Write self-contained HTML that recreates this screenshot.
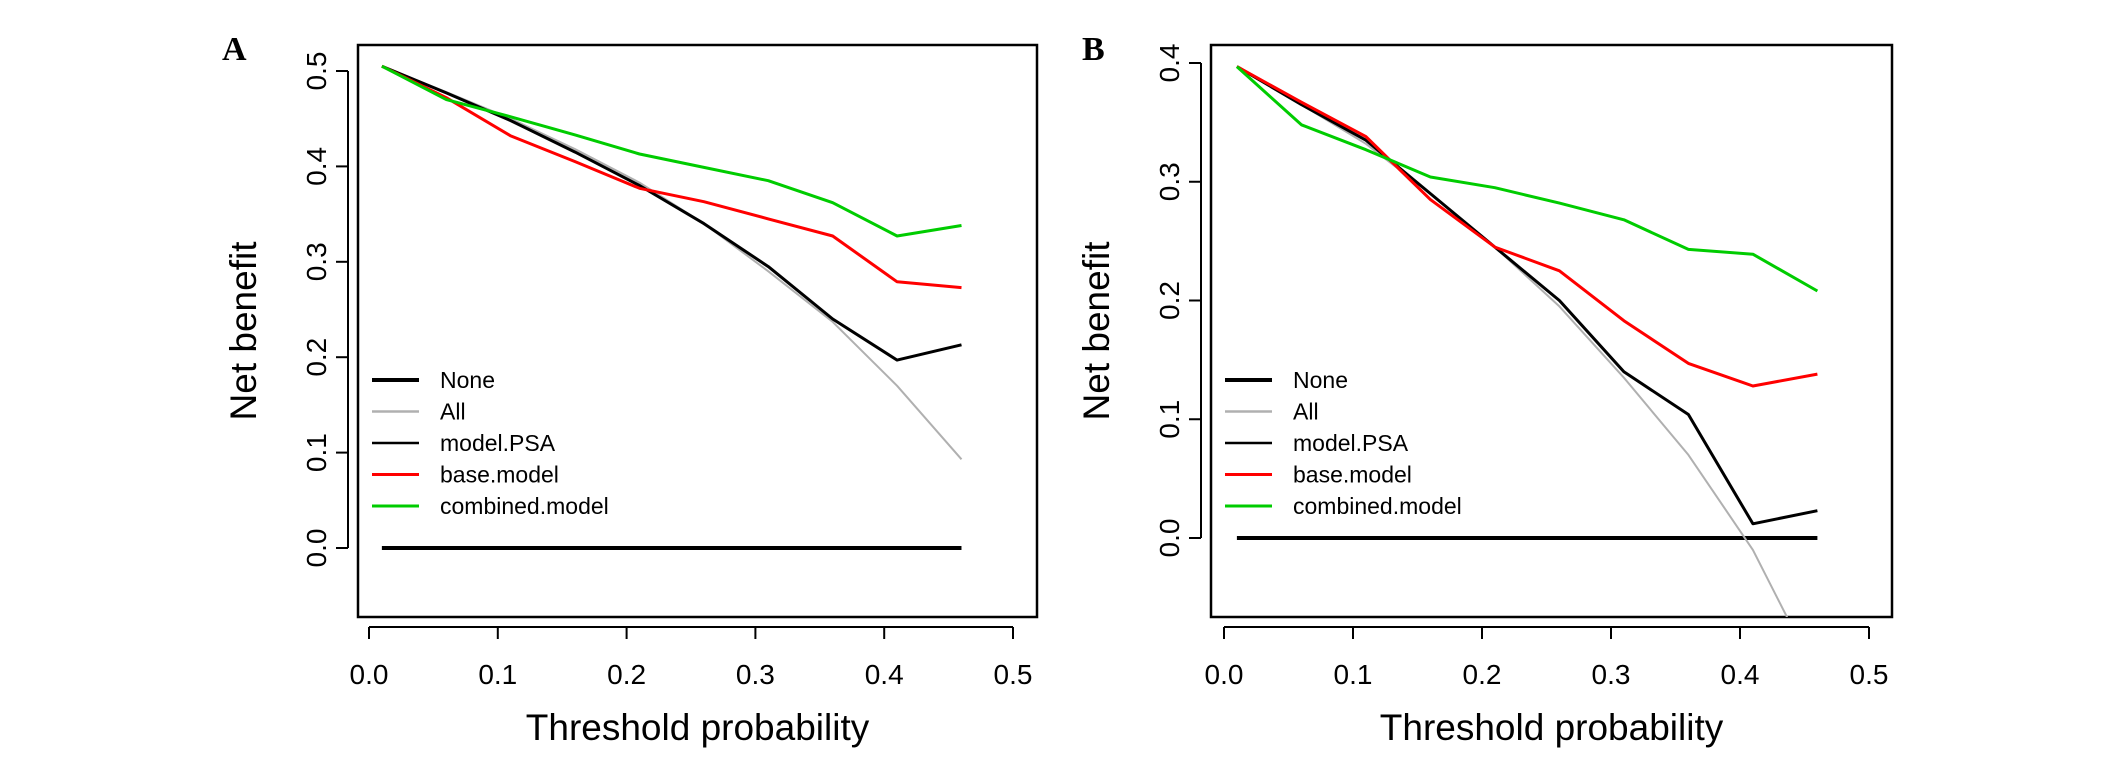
<!DOCTYPE html>
<html><head><meta charset="utf-8"><style>
body{margin:0;background:#fff;}
svg{display:block;font-family:"Liberation Sans",sans-serif;}
</style></head><body>
<svg id="fig" width="2126" height="760" viewBox="0 0 2126 760"></svg>
<script>
const xVals=[0.01,0.06,0.11,0.16,0.21,0.26,0.31,0.36,0.41,0.46];
const xTicks=[0.0,0.1,0.2,0.3,0.4,0.5];
const xTickLabels=["0.0","0.1","0.2","0.3","0.4","0.5"];
const legendLabels=["None","All","model.PSA","base.model","combined.model"];
// Panel A
const aPSA=[0.505,0.477,0.448,0.415,0.380,0.340,0.295,0.240,0.197,0.213];
const aAll=[0.505,0.478,0.450,0.418,0.383,0.340,0.290,0.237,0.170,0.093];
const aBase=[0.505,0.472,0.432,0.405,0.377,0.363,0.345,0.327,0.279,0.273];
const aComb=[0.505,0.470,0.452,0.433,0.413,0.399,0.385,0.362,0.327,0.338];
const aYTicks=[0.0,0.1,0.2,0.3,0.4,0.5];
const aYTickLabels=["0.0","0.1","0.2","0.3","0.4","0.5"];
// Panel B
const bPSA=[0.397,0.365,0.335,0.290,0.245,0.200,0.140,0.104,0.012,0.023];
const bAll=[0.397,0.365,0.332,0.290,0.245,0.195,0.135,0.070,-0.010,-0.117];
const bBase=[0.397,0.367,0.338,0.285,0.245,0.225,0.183,0.147,0.128,0.138];
const bComb=[0.397,0.348,0.327,0.304,0.295,0.282,0.268,0.243,0.239,0.208];
const bYTicks=[0.0,0.1,0.2,0.3,0.4];
const bYTickLabels=["0.0","0.1","0.2","0.3","0.4"];

const NS="http://www.w3.org/2000/svg";
const svg=document.getElementById('fig');
function el(tag,attrs,parent){const e=document.createElementNS(NS,tag);for(const k in attrs)e.setAttribute(k,attrs[k]);(parent||svg).appendChild(e);return e;}

function panel(p){
  const g=el('g',{});
  
  
  const sx=v=>p.x0+(v-0)*(p.x5-p.x0)/0.5;
  const sy=v=>p.y0+(v-0)*(p.yTop-p.y0)/p.topVal;
  const clipId='clip'+p.id;
  const cp=el('clipPath',{id:clipId},g);
  el('rect',{x:p.bl,y:p.bt,width:p.br-p.bl,height:p.bb-p.bt},cp);
  const box=el('rect',{x:p.bl,y:p.bt,width:p.br-p.bl,height:p.bb-p.bt,fill:'none',stroke:'#000','stroke-width':2.5},g);
  
  
  const lab=el('text',{x:p.labX,y:60,'font-family':'Liberation Serif, serif','font-weight':'bold','font-size':34},g);
  lab.textContent=p.id;
  
  
  const xa=el('g',{},g);
  
  
  el('line',{x1:sx(0),x2:sx(0.5),y1:p.bb+10,y2:p.bb+10,stroke:'#000','stroke-width':2},xa);
  xTicks.forEach((t,i)=>{
    el('line',{x1:sx(t),x2:sx(t),y1:p.bb+10,y2:p.bb+22,stroke:'#000','stroke-width':2},xa);
    const tx=el('text',{x:sx(t),y:684,'text-anchor':'middle','font-size':28},xa);
    tx.textContent=xTickLabels[i];
    
    
  });
  const xt=el('text',{x:(p.bl+p.br)/2,y:740,'text-anchor':'middle','font-size':37},g);
  xt.textContent='Threshold probability';
  
  
  const ya=el('g',{},g);
  
  
  el('line',{x1:p.bl-10,x2:p.bl-10,y1:sy(0),y2:sy(p.topVal),stroke:'#000','stroke-width':2},ya);
  p.yTicks.forEach((t,i)=>{
    el('line',{x1:p.bl-22,x2:p.bl-10,y1:sy(t),y2:sy(t),stroke:'#000','stroke-width':2},ya);
    const tx=el('text',{x:0,y:0,'text-anchor':'middle','font-size':28,transform:`translate(${p.bl-32},${sy(t)}) rotate(-90)`},ya);
    tx.textContent=p.yLabels[i];
    
    
  });
  const yt=el('text',{x:0,y:0,'text-anchor':'middle','font-size':37,transform:`translate(${p.bl-102},${(p.bt+p.bb)/2}) rotate(-90)`},g);
  yt.textContent='Net benefit';
  
  
  const dg=el('g',{'clip-path':`url(#${clipId})`},g);
  const none=el('line',{x1:sx(xVals[0]),x2:sx(xVals[xVals.length-1]),y1:sy(0),y2:sy(0),stroke:'#000','stroke-width':4},dg);
  
  
  const series=[[p.all,'#b0b0b0',2,'series-all'],[p.psa,'#000',3,'series-model-psa'],[p.base,'#ff0000',3,'series-base-model'],[p.comb,'#00cc00',3,'series-combined-model']];
  series.forEach(s=>{
    const d=s[0].map((v,i)=>(i?'L':'M')+sx(xVals[i]).toFixed(1)+','+sy(v).toFixed(1)).join(' ');
    const pa=el('path',{d:d,fill:'none',stroke:s[1],'stroke-width':s[2],'stroke-linejoin':'round'},dg);
    
    
  });
  const lg=el('g',{},g);
  
  
  const lc=['#000','#b0b0b0','#000','#ff0000','#00cc00'];
  const lw=[4,2.5,2.5,3,3];
  legendLabels.forEach((t,i)=>{
    const y=380+i*31.5;
    const e=el('g',{},lg);
    
    
    el('line',{x1:p.bl+14,x2:p.bl+61,y1:y,y2:y,stroke:lc[i],'stroke-width':lw[i]},e);
    const tx=el('text',{x:p.bl+82,y:y+8,'font-size':23},e);
    tx.textContent=t;
  });
}
panel({id:'A',bl:358,br:1037,bt:45,bb:617,x0:369,x5:1013,y0:548,yTop:71,topVal:0.5,labX:222,yTicks:aYTicks,yLabels:aYTickLabels,psa:aPSA,all:aAll,base:aBase,comb:aComb});
panel({id:'B',bl:1211,br:1892,bt:45,bb:617,x0:1224,x5:1869,y0:538,yTop:63,topVal:0.4,labX:1082,yTicks:bYTicks,yLabels:bYTickLabels,psa:bPSA,all:bAll,base:bBase,comb:bComb});
</script>
</body></html>
